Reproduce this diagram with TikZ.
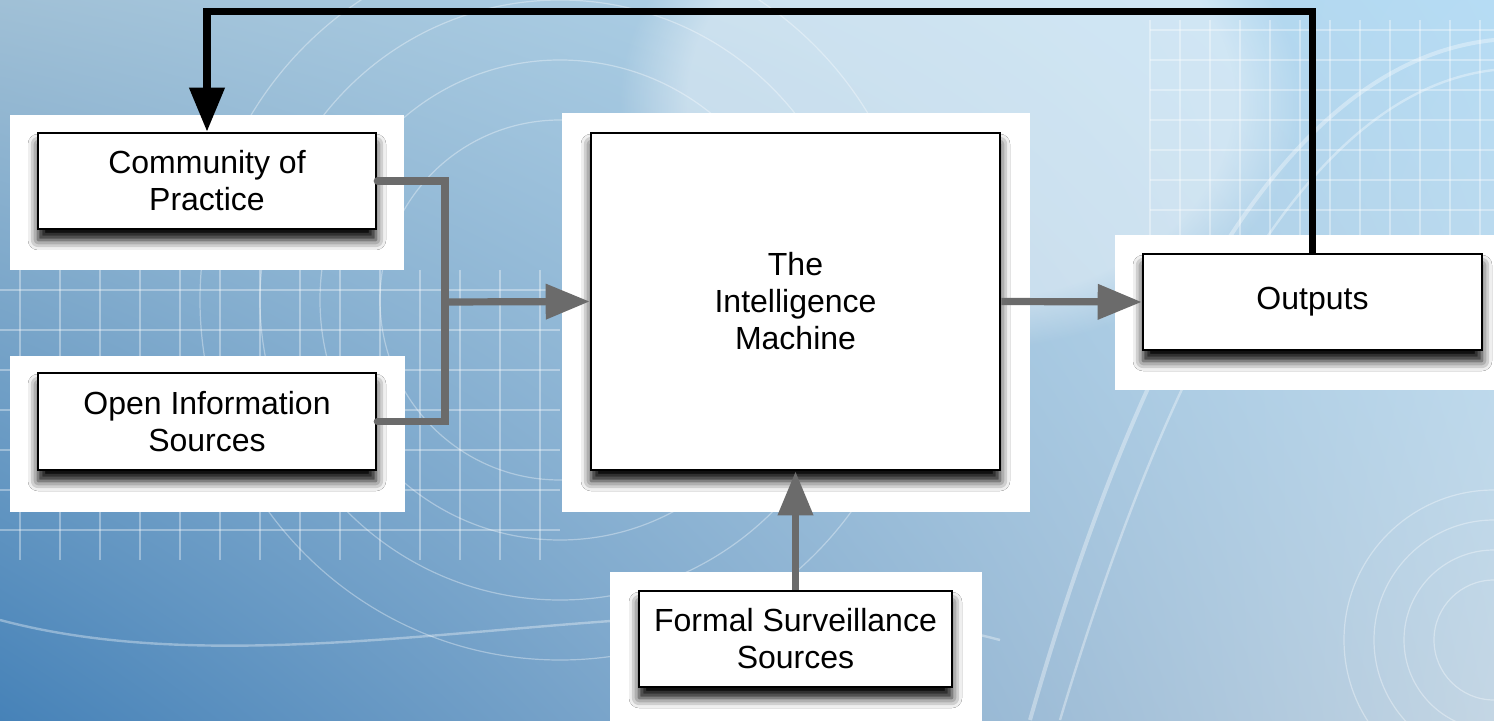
\documentclass[tikz,border=0pt]{standalone}
\usepackage{fontspec}
\setmainfont{Liberation Sans}
\usetikzlibrary{arrows.meta,shadows.blur,shadings,fadings}

\definecolor{linegray}{HTML}{6B6B6B}
\definecolor{bgA}{RGB}{160,192,214}
\definecolor{bgB}{RGB}{182,220,244}
\definecolor{bgC}{RGB}{70,130,184}
\definecolor{bgD}{RGB}{196,214,228}

\tikzset{
  panel/.style={fill=white},
  box/.style={draw=black, line width=1.3pt, fill=white, align=center,
    font=\fontsize{16}{18.5}\selectfont, inner sep=2pt,
    blur shadow={shadow xshift=0pt, shadow yshift=-5.5pt,
      shadow blur radius=5pt, shadow opacity=100}},
  feed/.style={draw=linegray, line width=3.6pt, line cap=round},
  feedarrow/.style={draw=linegray, line width=3.6pt,
    -{Triangle[length=22pt,width=17pt]}},
  loop/.style={draw=black, line width=3.6pt,
    -{Triangle[length=22pt,width=17pt]}},
  deco/.style={draw=white, line width=0.6pt, opacity=0.35},
}

\begin{document}
\begin{tikzpicture}[x=0.5pt,y=-0.5pt]
  \useasboundingbox (0,0) rectangle (1494,721);
  % backdrop
  \begin{scope}
    \clip (0,0) rectangle (1494,721);
    \shade[upper left=bgA, upper right=bgB, lower left=bgC, lower right=bgD]
      (0,0) rectangle (1494,721);
    \fill[white, opacity=0.4, path fading=circle with fuzzy edge 20 percent]
      (620,-150) rectangle (1300,350);
    % faint grid and arcs
    \foreach \gx in {1150,1180,...,1494} \draw[deco] (\gx,20) -- (\gx,240);
    \foreach \gy in {30,60,...,240} \draw[deco] (1150,\gy) -- (1494,\gy);
    \foreach \gx in {20,60,...,560} \draw[deco] (\gx,270) -- (\gx,560);
    \foreach \gy in {290,330,...,560} \draw[deco] (0,\gy) -- (560,\gy);
    \foreach \r in {180,240,300,360} \draw[deco] (560,300) circle (\r);
    \draw[deco, line width=2pt] (1030,720) .. controls (1150,300) and (1300,60) .. (1494,40);
    \draw[deco, line width=1.2pt] (1060,720) .. controls (1180,320) and (1320,90) .. (1494,70);
    \draw[deco, line width=1.2pt] (0,620) .. controls (300,700) and (700,560) .. (1000,640);
    \foreach \r in {60,90,120,150} \draw[deco] (1494,640) circle (\r);
  \end{scope}

  % white panels behind the boxes
  \fill[panel] (10,115) rectangle (404,270);
  \fill[panel] (10,356) rectangle (405,512);
  \fill[panel] (562,113) rectangle (1030,512);
  \fill[panel] (1115,235) rectangle (1494,390);
  \fill[panel] (610,572) rectangle (982,721);

  % boxes
  \node[box, minimum width=169pt, minimum height=48pt] (cop) at (207,181)
    {Community of\\Practice};
  \node[box, minimum width=169pt, minimum height=48.5pt] (ois) at (207,421.5)
    {Open Information\\Sources};
  \node[box, minimum width=204.5pt, minimum height=168.5pt] (tim) at (795.5,301.5)
    {The\\Intelligence\\Machine};
  \node[box, minimum width=169.5pt, minimum height=48pt] (out) at (1312.5,302)
    {Outputs};
  \node[box, minimum width=156.5pt, minimum height=48pt] (fss) at (795.5,639)
    {Formal Surveillance\\Sources};

  % connectors
  \coordinate (join) at (445,302);
  \draw[feed] (cop.east) -| (join) |- (ois.east);
  \draw[feedarrow] (join) -- (tim.west);
  \draw[feedarrow] (tim.east) -- (out.west);
  \draw[feedarrow] (fss.north) -- (tim.south);
  \draw[loop] (out.north) -- ++(0,-241) -| (cop.north);
\end{tikzpicture}
\end{document}
